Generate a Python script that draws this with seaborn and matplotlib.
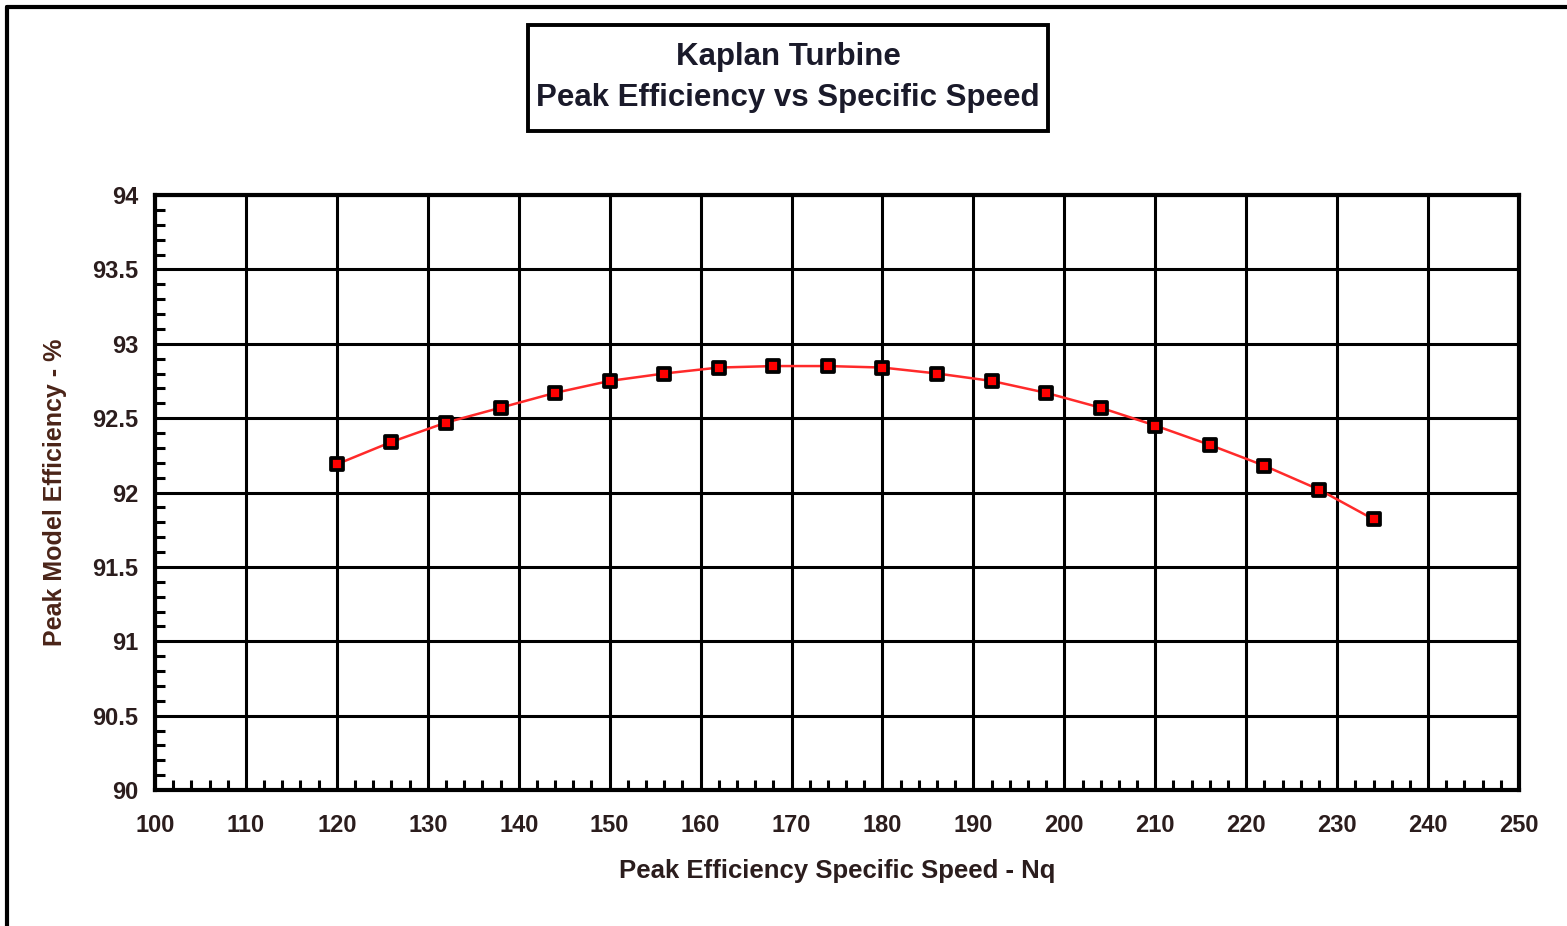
import matplotlib
matplotlib.use("Agg")
import matplotlib.pyplot as plt
import seaborn as sns
import pandas as pd
from matplotlib.patches import Rectangle
from matplotlib.lines import Line2D
from matplotlib.ticker import MultipleLocator

# peak efficiency specific speed (Nq) and peak model efficiency (%)
nq = [120, 126, 132, 138, 144, 150, 156, 162, 168, 174,
      180, 186, 192, 198, 204, 210, 216, 222, 228, 234]
efficiency = [92.19, 92.34, 92.47, 92.57, 92.67, 92.75, 92.80, 92.84, 92.85, 92.85,
              92.84, 92.80, 92.75, 92.67, 92.57, 92.45, 92.32, 92.18, 92.02, 91.82]

title_lines = ["Kaplan Turbine", "Peak Efficiency vs Specific Speed"]
x_label = "Peak Efficiency Specific Speed - Nq"
y_label = "Peak Model Efficiency - %"
y_ticks = [90, 90.5, 91, 91.5, 92, 92.5, 93, 93.5, 94]

df = pd.DataFrame({"nq": nq, "eff": efficiency})

sns.set_style("white")
plt.rcParams["font.family"] = ["Liberation Sans", "DejaVu Sans"]

fig = plt.figure(figsize=(15.67, 9.26), dpi=100)
W, H = 1567, 926
ax = fig.add_axes([155 / W, 1 - 790 / H, (1519 - 155) / W, (790 - 195) / H])

sns.lineplot(data=df, x="nq", y="eff", ax=ax, color="#ff2a2a", lw=1.8, zorder=3)
sns.scatterplot(data=df, x="nq", y="eff", ax=ax, marker="s", s=75,
                color="#ff0000", edgecolor="black", linewidth=2.7, zorder=4)

ax.set_xlim(100, 250)
ax.set_ylim(90, 94)
ax.xaxis.set_major_locator(MultipleLocator(10))
ax.xaxis.set_minor_locator(MultipleLocator(2))
ax.set_yticks(y_ticks)
ax.set_yticklabels([f"{v:g}" for v in y_ticks])
ax.yaxis.set_minor_locator(MultipleLocator(0.1))

ax.grid(True, which="major", color="black", lw=2.2)
ax.set_axisbelow(True)
for s in ax.spines.values():
    s.set_linewidth(3)
    s.set_color("black")

ax.tick_params(bottom=True, left=True, top=False, right=False, which="both")
ax.tick_params(which="major", direction="in", length=0, pad=17,
               labelsize=17, labelcolor="#2b1d1d")
ax.tick_params(axis="y", which="major", pad=12)
ax.tick_params(which="minor", direction="in", length=7, width=2.2, color="black")
for lbl in ax.get_xticklabels() + ax.get_yticklabels():
    lbl.set_fontweight("bold")

ax.set_xlabel(x_label, fontsize=18.5, fontweight="bold", color="#2b1d1d", labelpad=16)
ax.set_ylabel(y_label, fontsize=18, fontweight="bold", color="#4a2418", labelpad=18)

# title box
fig.add_artist(Rectangle((528 / W, 1 - 131 / H), (1048 - 528) / W, (131 - 25) / H,
                         transform=fig.transFigure, fill=False, ec="black", lw=2.8))
fig.text(788 / W, 1 - 57 / H, title_lines[0], ha="center", va="center",
         fontsize=22.5, fontweight="bold", color="#1a1a2a")
fig.text(788 / W, 1 - 98 / H, title_lines[1], ha="center", va="center",
         fontsize=22.5, fontweight="bold", color="#1a1a2a")

# page frame (left and top edges)
fig.add_artist(Line2D([7 / W, 7 / W], [0, 1 - 7 / H], transform=fig.transFigure,
                      color="black", lw=3))
fig.add_artist(Line2D([7 / W, 1], [1 - 7 / H, 1 - 7 / H], transform=fig.transFigure,
                      color="black", lw=3))

fig.savefig("out.png", dpi=100)
plt.close(fig)
